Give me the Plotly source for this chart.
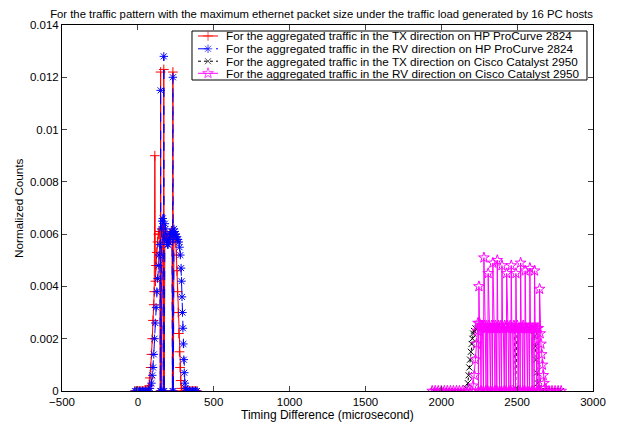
import plotly.graph_objects as go

# HP ProCurve 2824, TX direction
hp_tx_x = [-20, -10, 0, 10, 20, 30, 40, 50, 60, 70, 75, 80, 85, 90, 95, 100, 105, 108, 112, 116,
           120, 125, 130, 135, 140, 145, 148, 150, 153, 157, 161, 165, 168, 171, 174, 178, 182, 186,
           190, 195, 200, 205, 210, 215, 220, 225, 228, 231, 234, 238, 242, 246, 250, 254, 258, 262,
           266, 270, 274, 278, 282, 286, 290, 300, 310, 320, 330, 340, 350, 360, 370, 380, 390]
hp_tx_y = [0, 0, 0, 0, 0, 0, 0, 0.00002, 0.00005, 0.0001, 0.0002, 0.0005, 0.0009, 0.0014, 0.002,
           0.0027, 0.0033, 0.0038, 0.009, 0.0042, 0.0048, 0.0053, 0.0057, 0.006, 0.0061, 0.006, 0,
           0.0122, 0, 0.0061, 0.0062, 0.0061, 0, 0.0123, 0, 0.006, 0.006, 0.0059, 0.0058, 0.0057,
           0.0058, 0.0059, 0.006, 0.006, 0.0061, 0.006, 0, 0.0122, 0, 0.0061, 0.006, 0.0059, 0.0057,
           0.0052, 0.0046, 0.0038, 0.003, 0.0022, 0.0015, 0.0009, 0.0004, 0.0001, 0, 0, 0, 0, 0, 0,
           0, 0, 0, 0, 0]

# HP ProCurve 2824, RV direction
hp_rv_x = [-20, -10, 0, 10, 20, 30, 40, 50, 60, 70, 80, 90, 95, 100, 105, 110, 115, 120, 125, 130,
           135, 140, 145, 148, 150, 153, 156, 160, 164, 168, 171, 174, 178, 182, 186, 190, 195, 200,
           205, 210, 215, 220, 225, 228, 231, 234, 238, 242, 246, 250, 255, 260, 265, 270, 275, 280,
           285, 288, 291, 294, 297, 300, 303, 306, 310, 315, 320, 330, 340, 350, 360, 370, 380, 390]
hp_rv_y = [0, 0, 0, 0, 0, 0, 0, 0, 0, 0, 0.0001, 0.0003, 0.0006, 0.0009, 0.0014, 0.002, 0.0026,
           0.0032, 0.0038, 0.0043, 0.0048, 0.0052, 0.0056, 0, 0.0115, 0, 0.0062, 0.0065, 0.0066, 0,
           0.0128, 0, 0.0064, 0.0062, 0.006, 0.0058, 0.0056, 0.0056, 0.0057, 0.0058, 0.006, 0.006,
           0.0061, 0, 0.012, 0, 0.0062, 0.0061, 0.006, 0.006, 0.0059, 0.0058, 0.0058, 0.0057, 0.0055,
           0.0052, 0.0047, 0.0042, 0.0036, 0.003, 0.0024, 0.0018, 0.0012, 0.0007, 0.0003, 0.0001, 0,
           0, 0, 0, 0, 0, 0, 0]

# Cisco Catalyst 2950, TX direction
cs_tx_x = [1950, 1970, 1990, 2010, 2030, 2050, 2070, 2090, 2110, 2130, 2150, 2165, 2175, 2180, 2185,
           2190, 2195, 2200, 2205, 2210, 2215, 2225, 2240, 2260, 2280, 2300, 2320, 2340, 2360, 2380,
           2400, 2420, 2440, 2460, 2480, 2490, 2500, 2520, 2540, 2560, 2580, 2600, 2610, 2615, 2620,
           2625, 2630, 2635, 2640, 2650, 2670, 2690, 2710, 2730, 2750, 2770, 2790]
cs_tx_y = [0, 0, 0, 0, 0, 0, 0, 0, 0, 0, 0, 0.0001, 0.0003, 0.0006, 0.0009, 0.0012, 0.0015, 0.0018,
           0.002, 0.0022, 0.0023, 0.0024, 0.0024, 0.0025, 0.0024, 0.0024, 0.0025, 0.0024, 0.0024,
           0.0025, 0.0024, 0.0024, 0.0025, 0.0024, 0.0024, 0.0001, 0.0024, 0.0024, 0.0024, 0.0025,
           0.0024, 0.0024, 0.0023, 0.0021, 0.0017, 0.0012, 0.0007, 0.0003, 0.0001, 0, 0, 0, 0, 0, 0,
           0, 0]

# Cisco Catalyst 2950, RV direction
cs_rv_x = [1940, 1960, 1980, 2000, 2020, 2040, 2060, 2080, 2100, 2120, 2140, 2160, 2180, 2200,
           2210, 2218, 2225, 2232, 2238, 2242, 2245, 2248,
           2252, 2257, 2262, 2265, 2271, 2278, 2281,
           2285, 2290, 2295, 2298, 2303, 2306, 2309,
           2313, 2318, 2324, 2327, 2333, 2337, 2340,
           2344, 2349, 2354, 2357, 2362, 2366, 2369,
           2373, 2378, 2384, 2387, 2393, 2397, 2400,
           2404, 2409, 2415, 2418, 2424, 2428, 2431,
           2435, 2440, 2445, 2448, 2454, 2458, 2461,
           2465, 2470, 2476, 2479, 2485, 2489, 2492,
           2496, 2501, 2507, 2510, 2516, 2520, 2523,
           2527, 2532, 2537, 2540, 2546, 2550, 2553,
           2557, 2562, 2568, 2571, 2577, 2581, 2584,
           2588, 2593, 2599, 2602, 2608, 2612, 2615,
           2619, 2624, 2630, 2633, 2639, 2645, 2648,
           2652, 2657, 2662, 2667, 2672, 2677, 2683, 2690, 2710, 2730, 2750, 2770, 2790]
cs_rv_y = [0, 0, 0, 0, 0, 0, 0, 0, 0, 0, 0, 0, 0, 0,
           0.0002, 0.0006, 0.0012, 0.0018, 0.0023, 0.0026, 0, 0.004,
           0.0026, 0.0025, 0, 0.0025, 0.0025, 0, 0.0051,
           0.0025, 0.0024, 0, 0.0025, 0.0024, 0, 0.0045,
           0.0025, 0.0024, 0, 0.0024, 0.0025, 0, 0.0049,
           0.0025, 0.0024, 0, 0.0025, 0.0024, 0, 0.005,
           0.0024, 0.0025, 0, 0.0024, 0.0025, 0, 0.0048,
           0.0024, 0.0024, 0, 0.0025, 0.0024, 0, 0.0045,
           0.0025, 0.0024, 0, 0.0024, 0.0025, 0, 0.0048,
           0.0024, 0.0024, 0, 0.0025, 0.0024, 0, 0.0045,
           0.0024, 0.0025, 0, 0.0024, 0.0024, 0, 0.0049,
           0.0024, 0.0024, 0, 0.0025, 0.0024, 0, 0.0046,
           0.0024, 0.0024, 0, 0.0024, 0.0024, 0, 0.0047,
           0.0024, 0.0024, 0, 0.0024, 0.0024, 0, 0.0046,
           0.0024, 0.0024, 0, 0.0024, 0.0024, 0, 0.0039,
           0.0022, 0.0018, 0.0014, 0.001, 0.0006, 0.0003, 0.0001, 0, 0, 0, 0, 0, 0]

series_names = ['For the aggregated traffic in the TX direction on HP ProCurve 2824',
                'For the aggregated traffic in the RV direction on HP ProCurve 2824',
                'For the aggregated traffic in the TX direction on Cisco Catalyst 2950',
                'For the aggregated traffic in the RV direction on Cisco Catalyst 2950']

x_ticks = [-500, 0, 500, 1000, 1500, 2000, 2500, 3000]
y_ticks = [0, 0.002, 0.004, 0.006, 0.008, 0.01, 0.012, 0.014]
y_tick_text = ['0', '0.002', '0.004', '0.006', '0.008', '0.01', '0.012', '0.014']

font = 'Liberation Sans, Arial, sans-serif'

styles = [
    dict(line=dict(color='red', width=1),
         marker=dict(symbol='cross-thin', size=7, line=dict(color='red', width=1))),
    dict(line=dict(color='blue', width=1, dash='dash'),
         marker=dict(symbol='asterisk-open', size=7, line=dict(color='blue', width=1))),
    dict(line=dict(color='black', width=1, dash='dot'),
         marker=dict(symbol='x-thin-open', size=6, line=dict(color='black', width=1))),
    dict(line=dict(color='magenta', width=1),
         marker=dict(symbol='star-open', size=8, line=dict(color='magenta', width=1))),
]

fig = go.Figure()
data = [(hp_tx_x, hp_tx_y), (hp_rv_x, hp_rv_y), (cs_tx_x, cs_tx_y), (cs_rv_x, cs_rv_y)]
for (xs, ys), name, st in zip(data, series_names, styles):
    fig.add_trace(go.Scatter(x=xs, y=ys, mode='lines+markers', name=name,
                             line=st['line'], marker=st['marker'], showlegend=False))

# compact MATLAB-like legend drawn on an overlay axis (0..1 over the plot area)
row_y = [0.970, 0.935, 0.901, 0.868]
for name, st, ry in zip(series_names, styles, row_y):
    mk = dict(st['marker'])
    mk['size'] = [0, mk['size'], 0]
    fig.add_trace(go.Scatter(x=[0.2561, 0.2750, 0.2938], y=[ry, ry, ry], mode='lines+markers',
                             line=st['line'], marker=mk, xaxis='x2', yaxis='y2',
                             showlegend=False, hoverinfo='skip'))
    fig.add_annotation(x=0.307, y=ry, xref='paper', yref='paper', text=name, showarrow=False,
                       xanchor='left', yanchor='middle', borderpad=0, font=dict(size=11.7))
fig.add_shape(type='rect', xref='paper', yref='paper', x0=0.2448, x1=0.9887, y0=0.8497, y1=0.9836,
              line=dict(color='black', width=1), fillcolor='white', layer='below')

# axis titles
fig.add_annotation(x=0.5, y=-0.066, xref='paper', yref='paper', showarrow=False, borderpad=0,
                   text='Timing Difference (microsecond)', yanchor='middle', font=dict(size=12))
fig.add_annotation(x=-0.083, y=0.5, xref='paper', yref='paper', showarrow=False, textangle=-90,
                   text='Normalized Counts', xanchor='center', font=dict(size=11.7))

fig.update_layout(
    width=627, height=426,
    margin=dict(l=54, r=42, t=17, b=43),
    paper_bgcolor='white', plot_bgcolor='white',
    font=dict(family=font, size=11, color='black'),
    title=dict(text='For the traffic pattern with the maximum ethernet packet size under the traffic load generated by 16 PC hosts',
               x=0.5, xanchor='center', y=0.987, yanchor='middle', font=dict(size=11.3)),
    showlegend=False,
    xaxis=dict(range=[-500, 3000], tickvals=x_ticks, ticks='inside', ticklen=5,
               showline=True, linecolor='black', linewidth=1, mirror='ticks', showgrid=False,
               zeroline=False, tickfont=dict(size=11.5), automargin=False),
    yaxis=dict(range=[0, 0.014], tickvals=y_ticks, ticktext=y_tick_text, ticks='inside', ticklen=5,
               showline=True, linecolor='black', linewidth=1, mirror='ticks', showgrid=False,
               zeroline=False, tickfont=dict(size=11.5), automargin=False),
    xaxis2=dict(overlaying='x', range=[0, 1], visible=False),
    yaxis2=dict(overlaying='y', range=[0, 1], visible=False),
)

fig.write_html("out.html")
